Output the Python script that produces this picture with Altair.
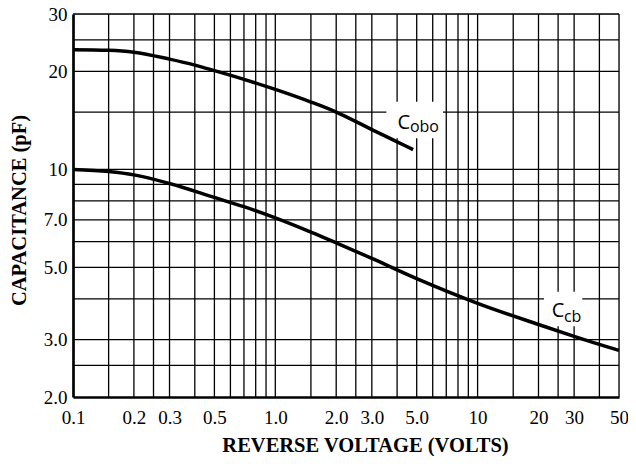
import altair as alt
import pandas as pd

# ---- data ----
x_cobo = [0.1, 0.15, 0.2, 0.3, 0.4, 0.5, 0.7, 1.0, 1.5, 2.0, 3.0, 4.0, 4.8]
y_cobo = [23.3, 23.2, 22.9, 21.8, 20.9, 20.1, 18.9, 17.6, 16.1, 15.0, 13.25, 12.15, 11.5]

x_ccb = [0.1, 0.15, 0.2, 0.3, 0.5, 0.7, 1.0, 1.5, 2.0, 3.0, 5.0, 10, 20, 30, 50]
y_ccb = [10.0, 9.85, 9.62, 9.05, 8.2, 7.68, 7.1, 6.42, 5.95, 5.33, 4.62, 3.88, 3.34, 3.07, 2.78]

x_ticks = [0.1, 0.2, 0.3, 0.5, 1, 2, 3, 5, 10, 20, 30, 50]
y_ticks = [2, 3, 5, 7, 10, 20, 30]

x_grid = [0.15, 0.2, 0.25, 0.3, 0.4, 0.5, 0.6, 0.7, 0.8, 0.9, 1.0,
          1.5, 2, 2.5, 3, 4, 5, 6, 7, 8, 9, 10, 15, 20, 25, 30, 40, 50]
y_grid = [2.5, 3, 4, 5, 6, 7, 8, 9, 10, 15, 20, 25, 30]

# label annotations (data units)
label_main = ["C", "C"]
label_sub = ["obo", "cb"]
label_cx = [4.32, 25.0]
label_cy = [13.3, 3.51]
label_sx = [4.63, 26.7]
label_sy = [13.0, 3.41]
box_x1 = [3.54, 21.3]
box_x2 = [6.74, 32.9]
box_y1 = [12.46, 3.30]
box_y2 = [16.14, 4.21]

# ---- tables ----
curves = pd.concat([
    pd.DataFrame({"v": x_cobo, "c": y_cobo, "s": "Cobo"}),
    pd.DataFrame({"v": x_ccb, "c": y_ccb, "s": "Ccb"}),
])
xg = pd.DataFrame({"v": x_grid})
yg = pd.DataFrame({"c": y_grid})
labels = pd.DataFrame({
    "main": label_main, "sub": label_sub,
    "cx": label_cx, "cy": label_cy, "sx": label_sx, "sy": label_sy,
    "bx1": box_x1, "bx2": box_x2, "by1": box_y1, "by2": box_y2,
})

lab_expr = "datum.value < 10 ? format(datum.value, '.1f') : format(datum.value, 'd')"

xscale = alt.Scale(type="log", domain=[0.1, 50], nice=False)
yscale = alt.Scale(type="log", domain=[2, 30], nice=False)

xaxis = alt.Axis(values=x_ticks, labelExpr=lab_expr, grid=False, ticks=False, tickSize=0,
                 labelFont="Liberation Serif", labelFontSize=19, labelColor="black",
                 labelPadding=11, labelFlush=False, labelOverlap=False,
                 domainColor="black", domainWidth=2.7, zindex=1,
                 title="REVERSE VOLTAGE (VOLTS)", titleFont="Liberation Serif",
                 titleFontSize=20.5, titleFontWeight="bold", titleColor="black",
                 titleX=292, titleY=54, titleBaseline="alphabetic", titleAlign="center")
yaxis = alt.Axis(values=y_ticks, labelExpr=lab_expr, grid=False, ticks=False, tickSize=0,
                 labelFont="Liberation Serif", labelFontSize=19, labelColor="black",
                 labelPadding=6, labelFlush=False, labelOverlap=False,
                 domainColor="black", domainWidth=2.7, zindex=1,
                 title="CAPACITANCE (pF)", titleFont="Liberation Serif",
                 titleFontSize=20.5, titleFontWeight="bold", titleColor="black",
                 titleX=-54, titleY=196, titleAngle=270, titleBaseline="middle", titleAlign="center")

vgrid = alt.Chart(xg).mark_rule(color="black", strokeWidth=1.3).encode(
    x=alt.X("v:Q", scale=xscale, axis=xaxis))
hgrid = alt.Chart(yg).mark_rule(color="black", strokeWidth=1.3).encode(
    y=alt.Y("c:Q", scale=yscale, axis=yaxis))

boxes = alt.Chart(labels).mark_rect(color="white").encode(
    x=alt.X("bx1:Q", scale=xscale), x2="bx2:Q",
    y=alt.Y("by1:Q", scale=yscale), y2="by2:Q")

lines = alt.Chart(curves).mark_line(color="black", strokeWidth=3.5, interpolate="monotone").encode(
    x=alt.X("v:Q", scale=xscale), y=alt.Y("c:Q", scale=yscale), detail="s:N")

main_txt = alt.Chart(labels).mark_text(font="Open Sans", fontSize=20, align="center",
                                       baseline="alphabetic", color="black").encode(
    x=alt.X("cx:Q", scale=xscale), y=alt.Y("cy:Q", scale=yscale), text="main:N")
sub_txt = alt.Chart(labels).mark_text(font="Open Sans", fontSize=16, align="left",
                                      baseline="alphabetic", color="black").encode(
    x=alt.X("sx:Q", scale=xscale), y=alt.Y("sy:Q", scale=yscale), text="sub:N")

chart = alt.layer(vgrid, hgrid, boxes, lines, main_txt, sub_txt).properties(
    width=546, height=383,
    autosize=alt.AutoSizeParams(type="none"),
    padding={"left": 65, "top": 6, "right": 9, "bottom": 59},
).configure_view(stroke=None).configure(background="white")

chart.save("out.html", embed_options={"renderer": "svg", "actions": False})
